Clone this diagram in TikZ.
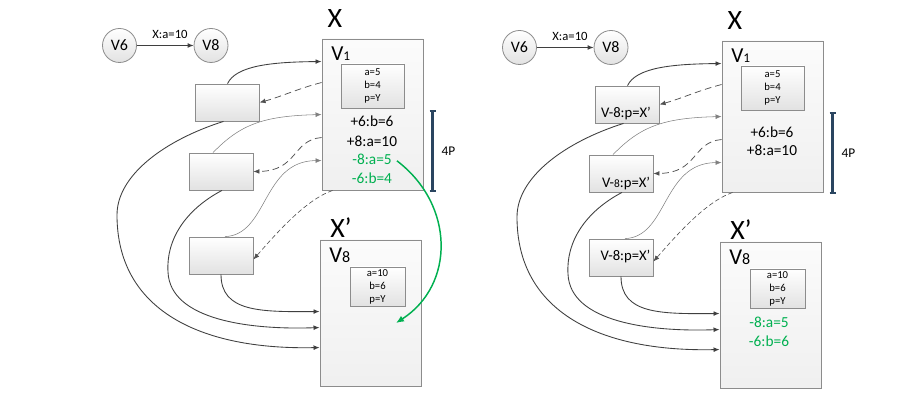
\documentclass[tikz,border=0pt]{standalone}
\usepackage{fontspec}
\setmainfont{Carlito}
\usetikzlibrary{arrows.meta,calc}
\definecolor{bordc}{HTML}{8C8C8C}
\definecolor{darkc}{HTML}{3F3F3F}
\definecolor{thinc}{HTML}{808080}
\definecolor{dashc}{HTML}{505050}
\definecolor{grn}{HTML}{00B050}
\definecolor{barc}{HTML}{2A4560}
\definecolor{fillb}{HTML}{E2E2E2}
\tikzset{
 smallbox/.style={draw=bordc, line width=0.6pt, rectangle, inner sep=0pt, top color=white, bottom color=fillb, minimum width=47.5pt, minimum height=27.75pt},
 bigbox/.style={draw=bordc, line width=0.7pt, rectangle, inner sep=0pt, top color=white!97!gray, bottom color=gray!12, minimum width=75.75pt},
 valbox/.style={draw=bordc, line width=0.6pt, rectangle, inner sep=0pt, top color=white, bottom color=fillb, align=center, font=\fontsize{8}{9.75}\selectfont},
 circ/.style={draw=bordc, line width=0.6pt, circle, inner sep=0pt, minimum size=25.5pt, top color=white, bottom color=fillb, font=\fontsize{12}{12}\selectfont},
 tip/.style={-{Latex[length=4.5pt,width=3.6pt]}},
 darkarrow/.style={draw=darkc, line width=0.65pt, tip},
 thinarrow/.style={draw=thinc, line width=0.4pt, tip},
 dasharrow/.style={draw=dashc, line width=0.55pt, dash pattern=on 5pt off 3pt, tip},
 dasharrowb/.style={draw=dashc, line width=0.45pt, dash pattern=on 3.5pt off 2pt, tip},
 bigtxt/.style={font=\fontsize{11.5}{11.5}\selectfont, anchor=base, inner sep=0pt},
 boxtxt/.style={font=\fontsize{11}{11}\selectfont, anchor=base, inner sep=0pt},
 titletxt/.style={font=\fontsize{21}{21}\selectfont, inner sep=0pt},
}
\newcommand\commonpart{%
 \node[circ] (c6) at (119.5,45.5) {V6};
 \node[circ] (c8) at (211,45.5) {V8};
 \node[font=\fontsize{9.5}{9.5}\selectfont, inner sep=0pt] (lab) at (170,34) {X:a=10};
 \node[bigbox, minimum height=113.25pt] (X) at (372.5,114.5) {};
 \node[titletxt] (Xl) at (335,19) {X};
 \node[anchor=base west, inner sep=0pt] (V1) at (331,61) {{\fontsize{16}{16}\selectfont V}{\fontsize{10}{10}\selectfont 1}};
 \node[valbox, minimum width=47.25pt, minimum height=33pt] (vx) at (372.5,86) {a=5\\b=4\\p=Y};
 \node[smallbox] (b1) at (227.5,102.5) {};
 \node[smallbox, minimum width=48pt] (b2) at (221,171.5) {};
 \node[smallbox, minimum width=48pt] (b3) at (221,255.5) {};
 \node[bigbox, minimum height=109.5pt] (Y) at (370.5,313) {};
 \node[titletxt] (Yl) at (341,228) {X’};
 \node[anchor=base west, inner sep=0pt] (V8) at (329,263) {{\fontsize{17}{17}\selectfont V}{\fontsize{12}{12}\selectfont 8}};
 \node[valbox, minimum width=41.25pt, minimum height=29.25pt] (vy) at (377.5,286.5) {a=10\\b=6\\p=Y};
 \coordinate (bt) at (432.5,111);
 \coordinate (bb) at (432.5,191);
 \draw[barc, line width=2.6pt] (bt) -- (bb);
 \draw[barc, line width=0.8pt] ($(bt)+(-3,0)$) -- ($(bt)+(3,0)$);
 \draw[barc, line width=0.8pt] ($(bb)+(-3,0)$) -- ($(bb)+(3,0)$);
 \node[font=\fontsize{10}{10}\selectfont, inner sep=0pt] (fp) at (448.5,151) {4P};
 \draw[darkarrow] (c6) -- (c8);
 \draw[darkarrow] (b1.north) .. controls (236,66) and (270,62) .. ($(X.north west)+(0,23)$);
 \draw[dasharrow] ($(X.north west)+(0,44)$) .. controls (300,88) and (280,97) .. (b1.east);
 \draw[thinarrow] ($(b2.north)+(-8,0)$) .. controls (240,125) and (262,116) .. ($(X.north west)+(0,76)$);
 \draw[dasharrow] ($(X.north west)+(0,99)$) .. controls (292,140) and (298,171) .. (b2.east);
 \draw[thinarrow] ($(b3.north)+(4,0)$) .. controls (268,235) and (262,161) .. ($(X.north west)+(0,122)$);
 \draw[dasharrowb] ($(X.south west)+(11,0)$) .. controls (305,200) and (275,235) .. ($(b3.east)+(0,4)$);
 \draw[darkarrow] (b3.south) .. controls (221,312) and (260,312) .. ($(Y.north west)+(0,72)$);
 \draw[darkarrow] ($(b2.south)+(1,0)$) .. controls (185,210) and (166,240) .. (168,272) .. controls (170,320) and (250,330) .. ($(Y.north west)+(0,88)$);
 \draw[darkarrow] ($(b1.south)+(-4,0)$) .. controls (165,140) and (117,175) .. (117,215) .. controls (117,310) and (200,350) .. ($(Y.north west)+(0,108)$);
}
\begin{document}
\begin{tikzpicture}[x=0.75pt,y=-0.75pt]
\useasboundingbox (0,0) rectangle (900,402);
\fill[white] (0,0) rectangle (900,402);
\begin{scope}[name prefix=L-]
 \commonpart
 \node[bigtxt] (t1) at (372,127) {+6:b=6};
 \node[bigtxt] (t2) at (372,146.5) {+8:a=10};
 \node[bigtxt, text=grn] (g1) at (372,165) {-8:a=5};
 \node[bigtxt, text=grn] (g2) at (372,184) {-6:b=4};
 \coordinate (gend) at (396,323);
 \draw[grn, line width=1.1pt, -{Latex[length=6pt,width=5pt]}] ($(g1.east)+(5,1)$) .. controls (455,205) and (455,285) .. (gend);
\end{scope}
\begin{scope}[shift={(400,2)}, name prefix=R-]
 \commonpart
 \node[bigtxt] (t1) at (372,136) {+6:b=6};
 \node[bigtxt] (t2) at (372,154) {+8:a=10};
 \node[bigtxt, text=grn] (g1) at (369,326) {-8:a=5};
 \node[bigtxt, text=grn] (g2) at (369,345) {-6:b=6};
 \node[boxtxt] (s1) at (226,116) {V-8:p=X’};
 \node[boxtxt] (s2) at (226,186) {V-{\fontsize{8.5}{8.5}\selectfont 8}:p=X’};
 \node[boxtxt] (s3) at (225.5,259) {V-8:p=X’};
\end{scope}
\end{tikzpicture}
\end{document}
